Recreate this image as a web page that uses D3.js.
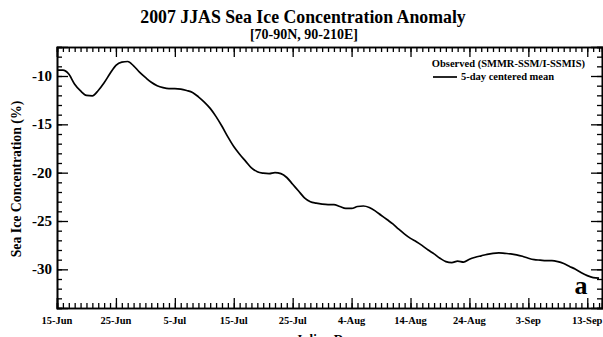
<!DOCTYPE html>
<html>
<head>
<meta charset="utf-8">
<script src="https://cdn.jsdelivr.net/npm/d3@7"></script>
<style>
  body { margin: 0; background: #fff; }
  text { font-family: "Liberation Serif", "Times New Roman", serif; font-weight: bold; fill: #000; }
</style>
</head>
<body>
<script>
// daily anomaly (%), 5-day centered mean, starting 15-Jun-2007
const startDate = new Date(2007, 5, 15);
const anomaly = [
  -9.4, -9.4, -9.8, -10.85, -11.55, -12.0, -12.05, -11.5, -10.7, -9.75,
  -8.9, -8.56, -8.5, -8.95, -9.6, -10.15, -10.65, -11.0, -11.2, -11.3,
  -11.3, -11.35, -11.5, -11.7, -12.15, -12.7, -13.35, -14.2, -15.2, -16.3,
  -17.3, -18.1, -18.8, -19.5, -19.9, -20.05, -20.1, -20.0, -20.1, -20.5,
  -21.2, -21.9, -22.6, -23.0, -23.15, -23.25, -23.3, -23.3, -23.5, -23.7,
  -23.7, -23.5, -23.45, -23.6, -23.95, -24.4, -24.85, -25.3, -25.85, -26.35,
  -26.8, -27.15, -27.55, -28.0, -28.4, -28.85, -29.2, -29.3, -29.15, -29.25,
  -28.95, -28.75, -28.6, -28.45, -28.35, -28.3, -28.35, -28.4, -28.5, -28.65,
  -28.85, -29.0, -29.05, -29.1, -29.1, -29.2, -29.4, -29.7, -30.0, -30.35,
  -30.65, -30.85, -30.9
];
const xTickLabels = ["15-Jun", "25-Jun", "5-Jul", "15-Jul", "25-Jul", "4-Aug", "14-Aug", "24-Aug", "3-Sep", "13-Sep"];
const yTicks = [-10, -15, -20, -25, -30];
const yDomain = [-34, -7];
const dayCount = 92.5;

const W = 603, H = 337;
const m = { left: 57, right: 602, top: 47, bottom: 308 };

const svg = d3.select("body").append("svg")
  .attr("width", W)
  .attr("height", H);

const dates = anomaly.map((d, i) => d3.timeDay.offset(startDate, i));
const endDate = new Date(startDate.getTime() + dayCount * 864e5);

const x = d3.scaleTime()
  .domain([startDate, endDate])
  .range([m.left, m.right]);
const y = d3.scaleLinear()
  .domain(yDomain)
  .range([m.bottom, m.top]);

const majorDates = xTickLabels.map((d, i) => d3.timeDay.offset(startDate, i * 10));
const minorDates = d3.timeDay.range(startDate, endDate);
const minorY = d3.range(yDomain[0], yDomain[1] + 1);

function styleAxis(g) {
  g.select(".domain").attr("stroke", "#000").attr("stroke-width", 1.6);
  g.selectAll(".tick line").attr("stroke", "#000").attr("stroke-width", 1.3);
}

// bottom axis
svg.append("g")
  .attr("transform", `translate(0,${m.bottom})`)
  .call(d3.axisTop(x).tickValues(minorDates).tickSize(5).tickFormat(""))
  .call(styleAxis);
svg.append("g")
  .attr("transform", `translate(0,${m.bottom})`)
  .call(d3.axisTop(x).tickValues(majorDates).tickSize(10).tickFormat(""))
  .call(styleAxis);
svg.append("g")
  .selectAll("text")
  .data(majorDates)
  .join("text")
  .attr("x", d => x(d))
  .attr("y", 324)
  .attr("text-anchor", "middle")
  .style("font-size", "10.5px")
  .text((d, i) => xTickLabels[i]);

// top axis
svg.append("g")
  .attr("transform", `translate(0,${m.top})`)
  .call(d3.axisBottom(x).tickValues(minorDates).tickSize(5).tickFormat(""))
  .call(styleAxis);
svg.append("g")
  .attr("transform", `translate(0,${m.top})`)
  .call(d3.axisBottom(x).tickValues(majorDates).tickSize(10).tickFormat(""))
  .call(styleAxis);

// left axis
svg.append("g")
  .attr("transform", `translate(${m.left},0)`)
  .call(d3.axisRight(y).tickValues(minorY).tickSize(5).tickFormat(""))
  .call(styleAxis);
svg.append("g")
  .attr("transform", `translate(${m.left},0)`)
  .call(d3.axisRight(y).tickValues(yTicks).tickSize(11).tickFormat(""))
  .call(styleAxis);
svg.append("g")
  .selectAll("text")
  .data(yTicks)
  .join("text")
  .attr("x", m.left - 5)
  .attr("y", d => y(d) + 5)
  .attr("text-anchor", "end")
  .style("font-size", "15px")
  .text(d => d);

// right axis
svg.append("g")
  .attr("transform", `translate(${m.right},0)`)
  .call(d3.axisLeft(y).tickValues(minorY).tickSize(5).tickFormat(""))
  .call(styleAxis);
svg.append("g")
  .attr("transform", `translate(${m.right},0)`)
  .call(d3.axisLeft(y).tickValues(yTicks).tickSize(11).tickFormat(""))
  .call(styleAxis);

// the curve
const line = d3.line()
  .x((d, i) => x(dates[i]))
  .y(d => y(d))
  .curve(d3.curveMonotoneX);
svg.append("path")
  .datum(anomaly)
  .attr("fill", "none")
  .attr("stroke", "#000")
  .attr("stroke-width", 1.7)
  .attr("d", line);

// titles
svg.append("text")
  .attr("x", 303).attr("y", 23)
  .attr("text-anchor", "middle")
  .style("font-size", "17.8px")
  .text("2007 JJAS Sea Ice Concentration Anomaly");
svg.append("text")
  .attr("x", 304).attr("y", 39)
  .attr("text-anchor", "middle")
  .style("font-size", "14px")
  .text("[70-90N, 90-210E]");
svg.append("text")
  .attr("transform", "translate(21,179) rotate(-90)")
  .attr("text-anchor", "middle")
  .style("font-size", "13.8px")
  .text("Sea Ice Concentration (%)");
svg.append("text")
  .attr("x", 326).attr("y", 343)
  .attr("text-anchor", "middle")
  .style("font-size", "13px")
  .text("Julian Day");

// legend
svg.append("text")
  .attr("x", 585).attr("y", 67)
  .attr("text-anchor", "end")
  .style("font-size", "10.5px")
  .text("Observed (SMMR-SSM/I-SSMIS)");
svg.append("line")
  .attr("x1", 433).attr("x2", 457)
  .attr("y1", 77).attr("y2", 77)
  .attr("stroke", "#000").attr("stroke-width", 1.7);
svg.append("text")
  .attr("x", 461).attr("y", 80)
  .style("font-size", "10.5px")
  .text("5-day centered mean");

// panel letter
svg.append("text")
  .attr("x", 581).attr("y", 294)
  .attr("text-anchor", "middle")
  .style("font-size", "26px")
  .text("a");
</script>
</body>
</html>
